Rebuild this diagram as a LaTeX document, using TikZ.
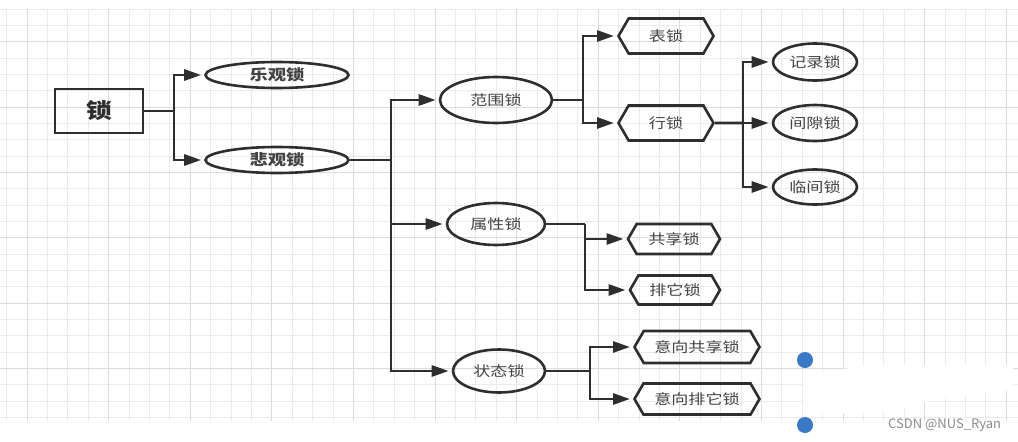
\documentclass[tikz,border=0pt]{standalone}
\usepackage{fontspec}
\usepackage{tikz}
\usetikzlibrary{shapes.geometric,shapes.symbols,arrows.meta}
\newfontfamily\cjk{Noto Sans CJK SC}[FakeStretch=1.22]
\newfontfamily\wmfont{Noto Sans CJK SC}
\definecolor{ink}{HTML}{2E2E2E}
\definecolor{gridminor}{HTML}{EBEBEB}
\definecolor{gridmajor}{HTML}{DCDCDC}
\definecolor{dotblue}{HTML}{3A78C8}
\definecolor{wmgray}{HTML}{8C8C8C}
\tikzset{
  lock/.style={draw=ink, line width=2.6pt, inner sep=0pt, text=ink!90, font=\cjk\fontsize{14}{14}\selectfont},
  oval/.style={lock, ellipse},
  hexa/.style={lock, signal, signal to=east and west, signal pointer angle=120},
  arr/.style={draw=ink, line width=2.8pt, -{Triangle[length=17pt,width=11pt]}, shorten >=3pt},
  link/.style={draw=ink, line width=2.8pt}
}

\begin{document}
\begin{tikzpicture}[x=1pt,y=-1pt]
\useasboundingbox (0,0) rectangle (1018,442);
\fill[white] (0,0) rectangle (1018,442);
\foreach \k in {0,...,49} \draw[gridminor, line width=1pt] ({6.7+20.4*\k},9.3) -- ({6.7+20.4*\k},421);
\foreach \k in {0,...,25} \draw[gridminor, line width=1pt] (0,{9.3+16.33*\k}) -- (1018,{9.3+16.33*\k});
\foreach \k in {1,5,...,49} \draw[gridmajor, line width=1pt] ({6.7+20.4*\k},9.3) -- ({6.7+20.4*\k},421);
\foreach \k in {2,6,...,22} \draw[gridmajor, line width=1pt] (0,{9.3+16.33*\k}) -- (1018,{9.3+16.33*\k});
\fill[white] (803,375) -- (870,365) -- (1013,365) -- (1013,390) -- (940,398) -- (880,413) -- (803,413) -- cycle;

\node [draw=ink, line width=2.8pt, minimum width=88pt, minimum height=44pt, text=ink, font=\cjk\bfseries\fontsize{21}{21}\selectfont] (root) at (99,111) {锁};
\node [oval, minimum width=143pt, minimum height=26pt, font=\cjk\bfseries\fontsize{15}{15}\selectfont] (opt) at (277,75) {乐观锁};
\node [oval, minimum width=143pt, minimum height=26pt, font=\cjk\bfseries\fontsize{15}{15}\selectfont] (pes) at (277,160) {悲观锁};
\node [oval, minimum width=112pt, minimum height=46pt] (range) at (496,100) {范围锁};
\node [hexa, minimum width=95pt, minimum height=35pt] (table) at (666,36) {表锁};
\node [hexa, minimum width=95pt, minimum height=35pt] (row) at (666,123) {行锁};
\node [oval, minimum width=84pt, minimum height=37pt] (record) at (815,62) {记录锁};
\node [oval, minimum width=84pt, minimum height=36pt] (gap) at (815,123) {间隙锁};
\node [oval, minimum width=84pt, minimum height=35pt] (nextkey) at (815,187) {临间锁};
\node [oval, minimum width=98pt, minimum height=42pt] (attr) at (496,224) {属性锁};
\node [hexa, minimum width=92pt, minimum height=30pt] (shared) at (674,239) {共享锁};
\node [hexa, minimum width=90pt, minimum height=29pt] (excl) at (675,290) {排它锁};
\node [oval, minimum width=92pt, minimum height=43pt] (state) at (499,371) {状态锁};
\node [hexa, minimum width=125pt, minimum height=32pt] (ishared) at (697,347) {意向共享锁};
\node [hexa, minimum width=125pt, minimum height=31pt] (iexcl) at (697,399) {意向排它锁};

\coordinate (j1) at (174,111);
\coordinate (j2) at (391,160);
\coordinate (j3) at (583,100);
\coordinate (j4) at (743,123);
\coordinate (j5) at (585,224);
\coordinate (j6) at (590,371);
\draw [link] (root) -- (j1);
\draw [arr] (j1) |- (opt);
\draw [arr] (j1) |- (pes);
\draw [link] (pes) -- (j2);
\draw [arr] (j2) |- (range);
\draw [arr] (j2) |- (attr);
\draw [arr] (j2) |- (state);
\draw [link] (range) -- (j3);
\draw [arr] (j3) |- (table);
\draw [arr] (j3) |- (row);
\draw [link] (row) -- (j4);
\draw [arr] (j4) |- (record);
\draw [arr] (j4) |- (gap);
\draw [arr] (j4) |- (nextkey);
\draw [link] (attr) -- (j5);
\draw [arr] (j5) |- (shared);
\draw [arr] (j5) |- (excl);
\draw [link] (state) -- (j6);
\draw [arr] (j6) |- (ishared);
\draw [arr] (j6) |- (iexcl);

\fill[dotblue] (805,360) circle (8);
\fill[dotblue] (805,425) circle (8);
\node [anchor=west, inner sep=0pt, text=wmgray, font=\wmfont\fontsize{13}{13}\selectfont] (wm) at (888,425) {CSDN @NUS\_Ryan};
\end{tikzpicture}
\end{document}
